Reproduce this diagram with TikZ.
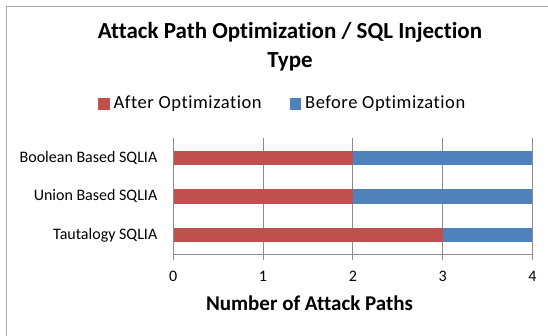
\documentclass[tikz,border=0pt]{standalone}
\usepackage{fontspec}
\setmainfont{Carlito}[Ligatures={NoCommon}]
\usetikzlibrary{positioning}
\definecolor{aftred}{HTML}{C0504D}
\definecolor{befblue}{HTML}{4F81BD}
\definecolor{gridgray}{HTML}{8C8C8C}
\definecolor{framegray}{HTML}{A8A8A8}

\begin{document}
\begin{tikzpicture}[x=1pt, y=-1pt,
  grd/.style={draw=gridgray, line width=0.9pt},
  key/.style={fill=#1, minimum size=11.5pt, inner sep=0pt},
  leg/.style={font=\fontsize{18.5}{20}\selectfont\addfontfeatures{LetterSpace=3}, inner sep=0pt},
  lab/.style={font=\fontsize{16}{17}\selectfont},
  ttl/.style={font=\bfseries\fontsize{23}{29}\selectfont, align=center}]
\useasboundingbox (0,0) rectangle (548,335);
\fill[white] (0,0) rectangle (548,335);
\draw[framegray, line width=1.5pt] (6.5,340) -- (6.5,6.5) -- (560,6.5);
% title and legend
\node[ttl] (title) at (290,47) {Attack Path Optimization / SQL Injection\\Type};
\node[key=aftred] (kafter) at (104,104) {};
\node[leg, right=3.5pt of kafter] (lafter) {After Optimization};
\node[key=befblue] (kbefore) at (295.5,104) {};
\node[leg, right=3.5pt of kbefore] (lbefore) {Before Optimization};
% plot area
\def\xo{173.3} \def\ux{89.75} \def\ya{254.5}
\foreach \t in {1,...,4}
  \draw[grd] (\xo+\t*\ux,138) -- (\xo+\t*\ux,\ya);
\foreach \v/\nm [count=\i] in {2/Boolean Based SQLIA, 2/Union Based SQLIA, 3/Tautalogy SQLIA} {
  \pgfmathsetmacro\c{157.8+(\i-1)*38.6}
  \fill[aftred] (\xo,\c-7.3) rectangle (\xo+\v*\ux,\c+7.3);
  \fill[befblue] (\xo+\v*\ux,\c-7.3) rectangle (\xo+4*\ux,\c+7.3);
  \node[lab, anchor=east, inner sep=0pt] (cat\i) at (157.5,\c) {\nm};
}
\draw[grd] (\xo,138) -- (\xo,260);
\draw[grd] (\xo,\ya) -- (\xo+4*\ux,\ya);
\foreach \t in {0,...,4} {
  \draw[grd] (\xo+\t*\ux,\ya) -- (\xo+\t*\ux,260);
  \node[lab] (tick\t) at (\xo+\t*\ux,276) {\t};
}
\node[font=\bfseries\fontsize{21}{23}\selectfont] (xtitle) at (309.5,303) {Number of Attack Paths};
\end{tikzpicture}
\end{document}
